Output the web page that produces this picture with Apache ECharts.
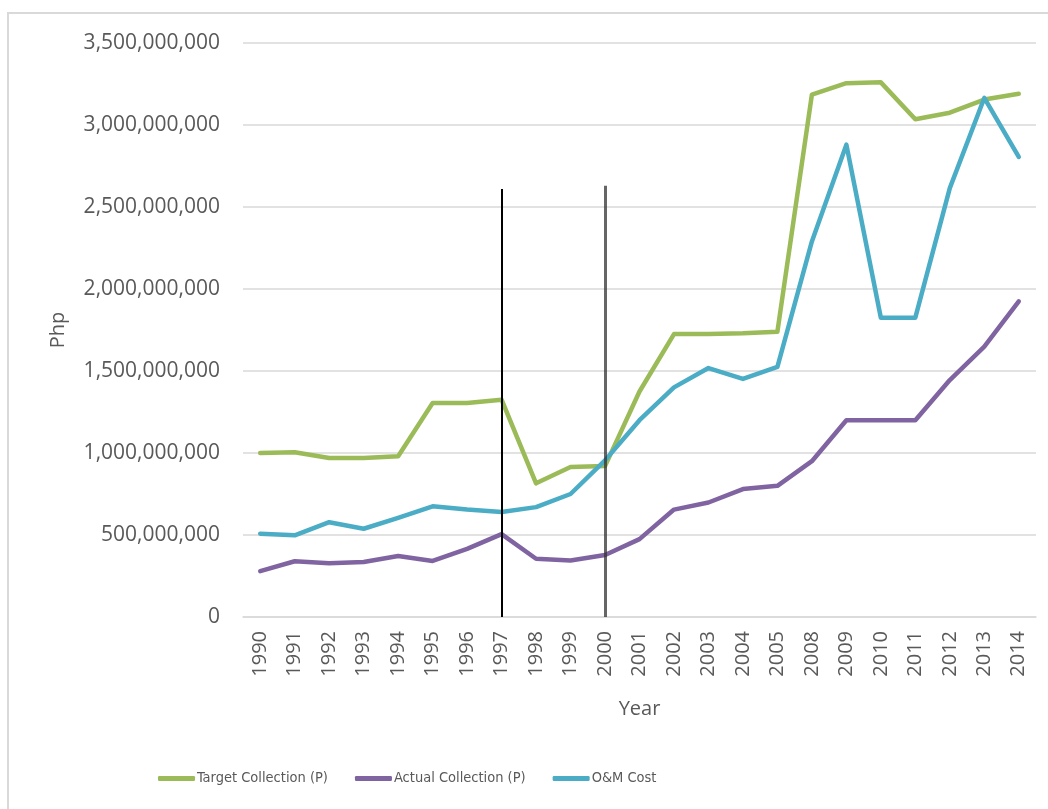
<!DOCTYPE html>
<html>
<head>
<meta charset="utf-8">
<title>Target vs Actual Collection and O&amp;M Cost</title>
<script src="https://cdn.jsdelivr.net/npm/echarts@6/dist/echarts.min.js"></script>
<style>
  html, body { margin: 0; padding: 0; background: #fff; overflow: hidden; }
  #frame {
    position: absolute; left: 7px; top: 12px;
    width: 1060px; height: 820px;
    border: 2px solid #d9d9d9; box-sizing: border-box;
  }
  #chart { position: absolute; left: 0; top: 0; width: 1048px; height: 809px; }
</style>
</head>
<body>
<div id="frame"></div>
<div id="chart"></div>
<script>
// categories (no 2006 / 2007 in the source)
const years = ['1990', '1991', '1992', '1993', '1994', '1995', '1996', '1997', '1998', '1999',
  '2000', '2001', '2002', '2003', '2004', '2005', '2008', '2009', '2010', '2011', '2012', '2013', '2014'];

const targetCollection = [1000000000, 1005000000, 970000000, 970000000, 980000000, 1305000000, 1305000000,
  1325000000, 815000000, 915000000, 920000000, 1375000000, 1725000000, 1725000000, 1730000000, 1740000000,
  3185000000, 3255000000, 3260000000, 3035000000, 3075000000, 3155000000, 3190000000];

const actualCollection = [280000000, 340000000, 328000000, 335000000, 372000000, 342000000, 415000000,
  505000000, 355000000, 345000000, 378000000, 475000000, 655000000, 698000000, 780000000, 800000000,
  950000000, 1200000000, 1200000000, 1200000000, 1445000000, 1648000000, 1925000000];

const omCost = [508000000, 498000000, 578000000, 538000000, 605000000, 675000000, 655000000,
  640000000, 670000000, 750000000, 955000000, 1200000000, 1400000000, 1518000000, 1452000000, 1525000000,
  2290000000, 2880000000, 1825000000, 1825000000, 2615000000, 3165000000, 2805000000];

// hand-drawn vertical markers
const markerYears = ['1997', '2000'];
const markerTops = [2610000000, 2630000000];

const yTicks = { min: 0, max: 3500000000, interval: 500000000 };

const font = '"Open Sans", "Liberation Sans", sans-serif';
const narrow = '"Liberation Sans Narrow", "DejaVu Sans Condensed", "Roboto", sans-serif';
const grey = '#595959';

const chart = echarts.init(document.getElementById('chart'), null, { renderer: 'canvas' });

const lineSeries = (name, data, color) => ({
  name: name,
  type: 'line',
  data: data,
  symbol: 'none',
  showSymbol: false,
  lineStyle: { color: color, width: 4.5, cap: 'round', join: 'round' },
  itemStyle: { color: color },
  emphasis: { disabled: true },
  animation: false
});

const targetS = lineSeries('Target Collection (P)', targetCollection, '#9bbb59');
const actualS = lineSeries('Actual Collection (P)', actualCollection, '#8064a2');
const omS = lineSeries('O&M Cost', omCost, '#4bacc6');

omS.markLine = {
  silent: true,
  symbol: 'none',
  label: { show: false },
  animation: false,
  data: [
    [
      { coord: [markerYears[0], 0], lineStyle: { color: '#000', width: 2, type: 'solid' } },
      { coord: [markerYears[0], markerTops[0]] }
    ],
    [
      { coord: [markerYears[1], 0], lineStyle: { color: '#333', width: 3, type: 'solid', opacity: 0.75 } },
      { coord: [markerYears[1], markerTops[1]] }
    ]
  ]
};

const option = {
  backgroundColor: 'transparent',
  animation: false,
  textStyle: { fontFamily: font },
  grid: { left: 243, right: 12, top: 43, bottom: 192, containLabel: false },
  legend: {
    left: 153,
    top: 766,
    icon: 'roundRect',
    itemWidth: 37,
    itemHeight: 5,
    itemGap: 27,
    textStyle: { color: grey, fontSize: 14.5, fontFamily: narrow, padding: [0, 0, 0, -3] },
    data: ['Target Collection (P)', 'Actual Collection (P)', 'O&M Cost']
  },
  xAxis: {
    type: 'category',
    data: years,
    boundaryGap: true,
    name: 'Year',
    nameLocation: 'middle',
    nameGap: 82,
    nameTextStyle: { color: grey, fontSize: 20, fontFamily: font },
    axisLine: { lineStyle: { color: '#d9d9d9', width: 1.5 } },
    axisTick: { show: false },
    axisLabel: { rotate: 90, color: grey, fontSize: 20, margin: 14, interval: 0, fontFamily: font }
  },
  yAxis: {
    type: 'value',
    min: yTicks.min,
    max: yTicks.max,
    interval: yTicks.interval,
    name: 'Php',
    nameLocation: 'middle',
    nameGap: 175,
    nameRotate: 90,
    nameTextStyle: { color: grey, fontSize: 20, fontFamily: font },
    axisLine: { show: false },
    axisTick: { show: false },
    splitLine: { lineStyle: { color: '#d9d9d9', width: 1.5 } },
    axisLabel: {
      color: grey,
      fontSize: 21,
      margin: 23,
      fontFamily: font,
      formatter: v => v.toLocaleString('en-US')
    }
  },
  series: [targetS, actualS, omS]
};

chart.setOption(option);
</script>
</body>
</html>
